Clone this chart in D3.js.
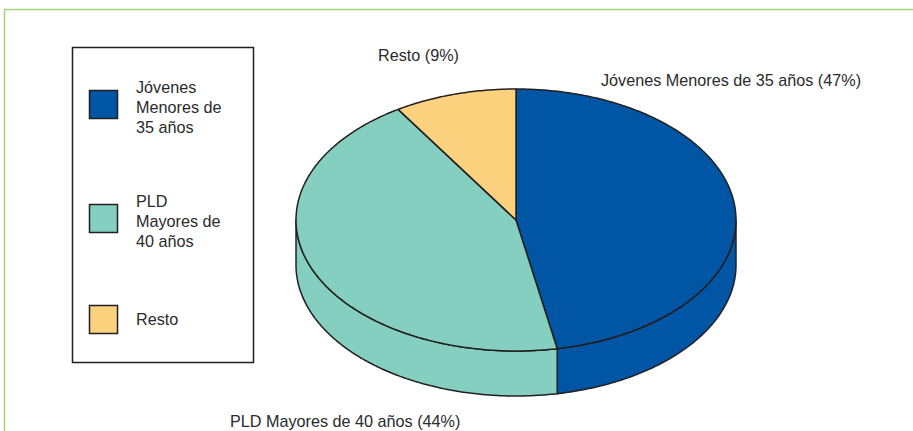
<!DOCTYPE html>
<meta charset="utf-8">
<html>
<script src="https://d3js.org/d3.v7.min.js"></script>
<style>
    body { margin: 0; background: #fff; }
    svg text { font-family: "Liberation Sans", Arial, sans-serif; fill: #2b2b2b; }
</style>
<body>
<div id="chart"></div>
<script>
    // data
    var categories = ["Jóvenes Menores de 35 años", "PLD Mayores de 40 años", "Resto"];
    var values = [47, 44, 9];
    var legendLines = [["Jóvenes", "Menores de", "35 años"], ["PLD", "Mayores de", "40 años"], ["Resto"]];
    var colors = ["#0055a5", "#84cfc0", "#fdd27e"];

    var width = 913, height = 431;
    var svg = d3.select("#chart").append("svg")
        .attr("width", width)
        .attr("height", height);

    // green frame
    svg.append("rect")
        .attr("x", 4.5).attr("y", 9.5)
        .attr("width", width + 20).attr("height", height + 20)
        .attr("fill", "none")
        .attr("stroke", "#a3d47a")
        .attr("stroke-width", 1.5);

    // pie geometry (ellipse)
    var cx = 516, cy = 220, rx = 220, ry = 131, depth = 45;
    var pie = d3.pie().sort(null).value(function (d) { return d; });
    var arcs = pie(values);

    function pt(a, dy) {
        return [cx + rx * Math.sin(a), cy - ry * Math.cos(a) + (dy || 0)];
    }
    function arcPts(a0, a1, dy) {
        var n = Math.max(2, Math.ceil(Math.abs(a1 - a0) / 0.01));
        var s = d3.scaleLinear().domain([0, n]).range([a0, a1]);
        return d3.range(n + 1).map(function (i) { return pt(s(i), dy); });
    }
    var line = d3.line();

    // sides (front half only: PI/2 .. 3PI/2)
    arcs.forEach(function (d, i) {
        var a0 = Math.max(d.startAngle, Math.PI / 2);
        var a1 = Math.min(d.endAngle, 3 * Math.PI / 2);
        if (a1 <= a0) return;
        var pts = arcPts(a0, a1, 0).concat(arcPts(a1, a0, depth));
        svg.append("path")
            .attr("d", line(pts) + "Z")
            .attr("fill", colors[i])
            .attr("stroke", "#231f20")
            .attr("stroke-width", 1.5)
            .attr("stroke-linejoin", "round");
    });

    // top slices
    arcs.forEach(function (d, i) {
        var pts = [[cx, cy]].concat(arcPts(d.startAngle, d.endAngle, 0));
        svg.append("path")
            .attr("d", line(pts) + "Z")
            .attr("fill", colors[i])
            .attr("stroke", "#231f20")
            .attr("stroke-width", 1.5)
            .attr("stroke-linejoin", "round");
    });

    // slice labels
    var labelPos = [[601, 86, "start"], [230, 427, "start"], [378, 61, "start"]];
    arcs.forEach(function (d, i) {
        svg.append("text")
            .attr("x", labelPos[i][0])
            .attr("y", labelPos[i][1])
            .attr("text-anchor", labelPos[i][2])
            .style("font-size", "16.2px")
            .text(categories[i] + " (" + values[i] + "%)");
    });

    // legend
    var legend = svg.append("g");
    legend.append("rect")
        .attr("x", 72.5).attr("y", 47.5)
        .attr("width", 181).attr("height", 315)
        .attr("fill", "#fff")
        .attr("stroke", "#231f20")
        .attr("stroke-width", 1.5);

    var swatchY = [90, 204, 305];
    var textY = [93, 207, 325];
    categories.forEach(function (c, i) {
        legend.append("rect")
            .attr("x", 89.5).attr("y", swatchY[i] + 0.5)
            .attr("width", 28).attr("height", 28)
            .attr("fill", colors[i])
            .attr("stroke", "#231f20")
            .attr("stroke-width", 1.5);
        var t = legend.append("text")
            .attr("x", 136).attr("y", textY[i])
            .style("font-size", "16.2px");
        legendLines[i].forEach(function (l, j) {
            t.append("tspan")
                .attr("x", 136)
                .attr("dy", j === 0 ? 0 : 20)
                .text(l);
        });
    });
</script>
</body>
</html>
